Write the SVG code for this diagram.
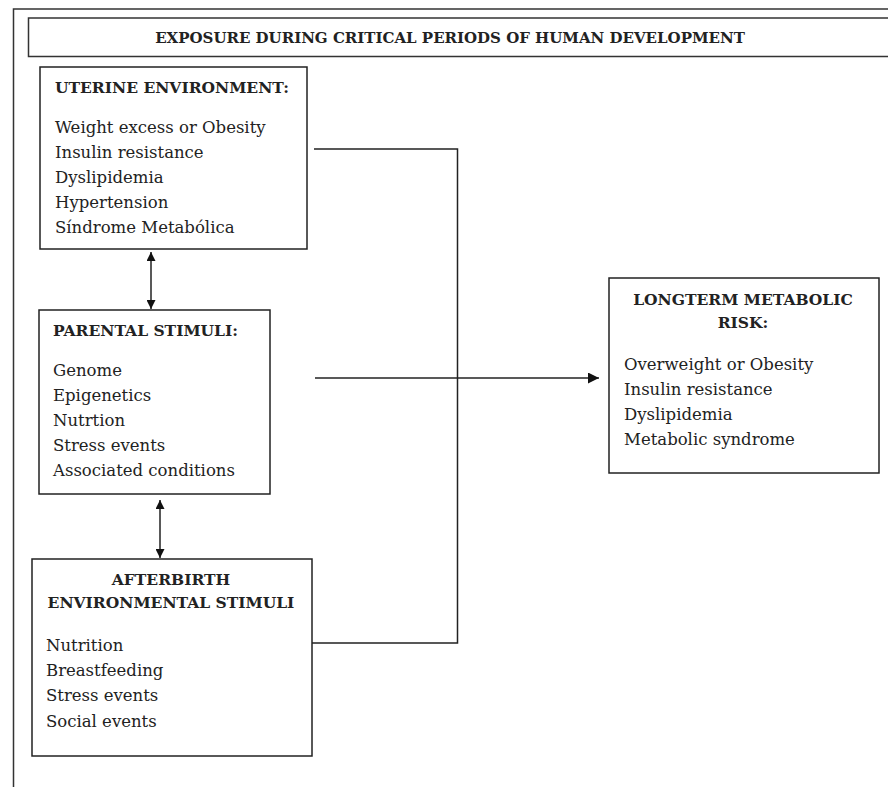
<svg xmlns="http://www.w3.org/2000/svg" width="888" height="787" viewBox="0 0 888 787">
<defs>
<style>
.box{fill:#fff;stroke:#222;stroke-width:1.5}
.frame{fill:none;stroke:#333;stroke-width:1.5}
.ln{fill:none;stroke:#222;stroke-width:1.5}
text{font-family:"DejaVu Serif","Liberation Serif",serif;fill:#222}
.t{font-size:15.5px;font-weight:bold}
.h{font-size:15px;font-weight:bold}
.i{font-size:16.5px}
.c{text-anchor:middle}
</style>
<marker id="ah" viewBox="0 0 10 10" refX="10" refY="5" markerWidth="9" markerHeight="9" markerUnits="userSpaceOnUse" orient="auto-start-reverse">
<path d="M0,0 L10,5 L0,10 z" fill="#111"/>
</marker>
<marker id="ah2" viewBox="0 0 10 10" refX="10" refY="5" markerWidth="11" markerHeight="11" markerUnits="userSpaceOnUse" orient="auto-start-reverse">
<path d="M0,0 L10,5 L0,10 z" fill="#111"/>
</marker>
</defs>
<rect width="888" height="787" fill="#fff"/>
<path class="frame" d="M13.5,787 V9 H888"/>
<g id="title">
<path class="frame" d="M888,18 H28.5 V56.5 H888"/>
<text class="h c" x="450" y="43">EXPOSURE DURING CRITICAL PERIODS OF HUMAN DEVELOPMENT</text>
</g>
<g id="uterine">
<rect class="box" x="40" y="67" width="267" height="182"/>
<text class="t" x="55" y="93">UTERINE ENVIRONMENT:</text>
<text class="i" x="55" y="133">Weight excess or Obesity</text>
<text class="i" x="55" y="158">Insulin resistance</text>
<text class="i" x="55" y="183">Dyslipidemia</text>
<text class="i" x="55" y="208">Hypertension</text>
<text class="i" x="55" y="233">Síndrome Metabólica</text>
</g>
<g id="parental">
<rect class="box" x="39" y="310" width="231" height="184"/>
<text class="t" x="53" y="336">PARENTAL STIMULI:</text>
<text class="i" x="53" y="376">Genome</text>
<text class="i" x="53" y="401">Epigenetics</text>
<text class="i" x="53" y="426">Nutrtion</text>
<text class="i" x="53" y="451">Stress events</text>
<text class="i" x="53" y="476">Associated conditions</text>
</g>
<g id="afterbirth">
<rect class="box" x="32" y="559" width="280" height="197"/>
<text class="t c" x="171" y="585">AFTERBIRTH</text>
<text class="t c" x="171" y="608">ENVIRONMENTAL STIMULI</text>
<text class="i" x="46" y="651">Nutrition</text>
<text class="i" x="46" y="676">Breastfeeding</text>
<text class="i" x="46" y="701">Stress events</text>
<text class="i" x="46" y="727">Social events</text>
</g>
<g id="risk">
<rect class="box" x="609" y="278" width="270" height="195"/>
<text class="t c" x="743" y="305">LONGTERM METABOLIC</text>
<text class="t c" x="743" y="328">RISK:</text>
<text class="i" x="624" y="370">Overweight or Obesity</text>
<text class="i" x="624" y="395">Insulin resistance</text>
<text class="i" x="624" y="420">Dyslipidemia</text>
<text class="i" x="624" y="445">Metabolic syndrome</text>
</g>
<g id="connectors">
<line class="ln" x1="151" y1="252" x2="151" y2="309" marker-start="url(#ah)" marker-end="url(#ah)"/>
<line class="ln" x1="160" y1="500" x2="160" y2="558" marker-start="url(#ah)" marker-end="url(#ah)"/>
<path class="ln" d="M314,149 H457.5 V643 H312"/>
<line class="ln" x1="315" y1="378" x2="599" y2="378" marker-end="url(#ah2)"/>
</g>
</svg>
